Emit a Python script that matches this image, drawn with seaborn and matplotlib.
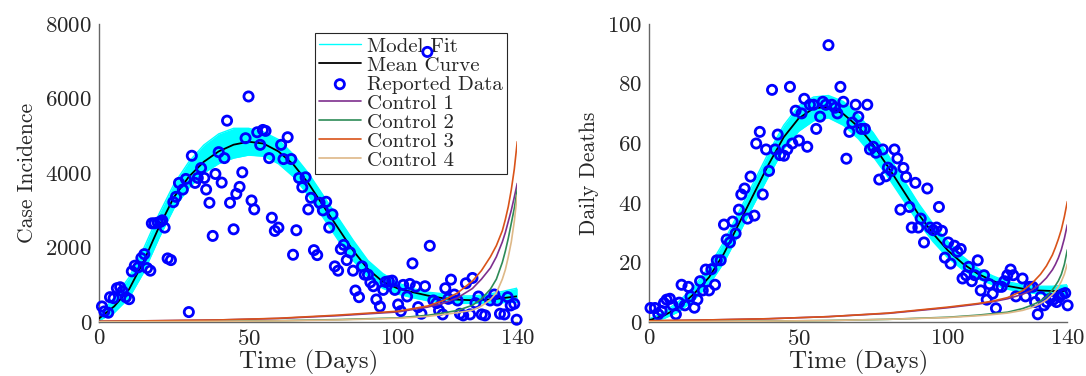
import numpy as np
import pandas as pd
import matplotlib
matplotlib.use("Agg")
import matplotlib.pyplot as plt
import seaborn as sns

# ---------------- data ----------------
grid_days = [0, 5, 10, 15, 20, 25, 30, 35, 40, 45, 50, 55, 60, 65, 70,
             75, 80, 85, 90, 95, 100, 105, 110, 115, 120, 125, 130, 135, 140]

cases_mean = [100, 420, 880, 1650, 2550, 3350, 3900, 4300, 4580, 4760, 4840, 4790,
              4580, 4230, 3730, 3120, 2520, 1920, 1420, 1080, 900, 800, 710, 640,
              600, 585, 600, 640, 690]
cases_upper = [200, 650, 1200, 2000, 2900, 3700, 4300, 4750, 5050, 5200, 5200, 5100,
               4900, 4500, 4000, 3400, 2800, 2200, 1650, 1300, 1050, 900, 800, 760,
               700, 700, 740, 820, 910]
cases_lower = [40, 250, 650, 1350, 2250, 3050, 3600, 4000, 4250, 4400, 4480, 4450,
               4250, 3900, 3400, 2800, 2200, 1650, 1200, 900, 750, 650, 570, 520,
               500, 500, 510, 520, 530]

deaths_mean = [0.6, 2.2, 5, 9.5, 15, 23, 33, 43, 53, 62, 68.3, 71.7, 72.2, 69.8, 65.5,
               59.4, 52, 44.2, 36.4, 29.7, 24, 19.6, 16.2, 13.8, 12.1, 11.2, 10.6, 10.4, 10.4]
deaths_upper = [1, 3.5, 7, 12, 18.5, 27, 37, 47, 57, 66, 72.5, 75.5, 76, 74, 69.5,
                63.5, 56, 48, 40, 33, 27, 22, 18, 15.5, 13.5, 12.5, 12, 12, 12.5]
deaths_lower = [0.2, 1.2, 3.5, 7.5, 12.5, 20, 29.5, 39.5, 49, 58, 64, 67.5, 68.5, 66, 61.5,
                55.5, 48.5, 41, 33.5, 27, 21.5, 17.5, 14.5, 12.5, 11, 10, 9.5, 9.2, 9]

cases_days = [0.9, 1.7, 3, 3.6, 4.8, 5.9, 7, 7.8, 8.9, 10, 10.9, 11.9, 13, 14.1, 15.1, 16,
              17.1, 17.6, 18.5, 19.6, 20.5, 21.1, 21.9, 22.9, 24, 24.8, 25.7, 26.7, 28, 29,
              30, 31, 32.1, 33, 34.1, 35.2, 35.8, 36.9, 38, 38.9, 40, 41, 41.9, 42.8, 43.8,
              45, 45.9, 47, 47.9, 49, 50, 51, 51.9, 52.9, 53.9, 54.8, 55.7, 56.9, 57.8, 58.8,
              60, 60.9, 61.7, 63.1, 64.3, 64.9, 66, 66.9, 68, 69.1, 70, 70.9, 71.9, 73, 73.8,
              74.9, 76, 77, 78.1, 78.9, 80, 80.9, 81.9, 82.9, 84, 85, 85.8, 87, 88, 88.9,
              90, 90.8, 91.8, 92.8, 94, 95.1, 95.9, 97, 98.1, 99, 100.1, 101, 101.8, 103.1,
              104, 104.9, 106, 106.8, 107.9, 109.1, 109.9, 110.7, 111.9, 113, 113.8, 115,
              115.9, 116.9, 117.8, 118.9, 120, 120.8, 121.9, 122.8, 124.2, 125, 126, 127,
              128.1, 129.2, 130.9, 132.3, 133.3, 134.2, 135.7, 136.8, 137.8, 139, 139.8]
cases_vals = [418, 284, 249, 667, 640, 907, 933, 827, 667, 613, 1360, 1511, 1467, 1716, 1822, 1449,
              1378, 2649, 2649, 2667, 2690, 2729, 2534, 1707, 1662, 3218, 3360, 3734, 3556, 3840,
              267, 4463, 3734, 3867, 4134, 3867, 3556, 3200, 2311, 3974, 4560, 3743, 4400, 5405, 3200,
              2489, 3440, 3627, 4018, 4934, 6054, 3263, 3023, 5094, 4756, 5156, 5130, 4400, 2800, 2445,
              2534, 4756, 4374, 4960, 4374, 1805, 2463, 3867, 3618, 3885, 3023, 3334, 1929, 1796, 3200,
              2996, 3227, 2534, 2889, 1494, 1378, 1956, 2071, 1662, 1867, 1378, 845, 667, 1494, 1271,
              1271, 1067, 960, 605, 418, 862, 1076, 1093, 1111, 862, 471, 293, 996, 685,
              1022, 1574, 951, 400, 222, 960, 7250, 2045, 578, 507, 311, 204,
              907, 622, 1138, 738, 578, 222, 178, 1040, 204, 1182, 507, 685,
              204, 178, 578, 738, 578, 222, 204, 667, 445, 489, 62]

deaths_days = [0.4, 1.9, 3, 4.1, 4.9, 5.8, 6.9, 7.8, 8.9, 10, 10.8, 11.9, 13.1, 13.8, 15.1, 16.1,
               17, 17.9, 18.9, 20, 20.8, 22, 22.6, 23.9, 25, 25.9, 27, 27.9, 28.9, 30, 30.8, 31.9,
               32.9, 33.9, 35.2, 35.8, 37, 38, 39.1, 40.1, 41.1, 42.1, 43, 43.8, 45.1, 46.2, 47.1,
               47.9, 49, 50.1, 51, 51.9, 52.9, 53.8, 55, 55.9, 57.2, 58.1, 59.1, 60, 61.1, 62.2,
               63, 64, 65, 66, 67, 68, 69.1, 70, 71, 72.2, 73, 73.9, 75, 75.9, 77, 78.2, 79.2,
               79.9, 81.1, 82.1, 83.1, 84.1, 85.1, 86, 87.1, 87.9, 89.1, 90.1, 90.9, 92, 93.1, 94,
               95.1, 96.2, 97, 98, 99, 100.1, 100.9, 102.2, 103.2, 104.3, 104.9, 106.1, 107, 108,
               109, 110, 111, 112.1, 113, 113.9, 115, 116.1, 116.9, 118, 118.9, 119.9, 121, 121.9,
               122.8, 125, 126, 127.3, 128.4, 129.2, 130.1, 131.1, 132.2, 133.1, 134.2, 135.3,
               136.4, 137.3, 138.3, 139.3, 140.1]
deaths_vals = [4.7, 4.7, 2.6, 3.7, 6.4, 7.5, 7.8, 5.6, 2.6, 6.5, 12.5, 5.6, 11.8, 8.6, 4.8, 7.5,
               13.7, 10.6, 17.6, 10.6, 17.7, 12.5, 20.7, 20.7, 32.7, 27.7, 26.7, 33.7, 29.7, 37.7, 42.8, 44.8,
               34.7, 48.8, 35.7, 59.9, 63.8, 42.8, 57.9, 50.7, 77.9, 57.9, 62.9, 56, 55.8, 57.9, 78.9,
               59.9, 70.9, 60.9, 70, 74.9, 58.8, 72.9, 72.9, 64.8, 68.9, 73.9, 72.9, 92.9, 72.9, 71.9,
               70, 78.9, 73.9, 54.8, 63.8, 66.9, 72.9, 68.9, 64.8, 64.8, 72.9, 57.9, 58.8, 56.8, 47.8, 57.9, 48.9,
               51.8, 50.7, 57.9, 54.9, 37.7, 51.7, 48.7, 38.6, 31.7, 46.7, 31.7, 34.7, 26.7, 44.8, 31.7,
               30.8, 31.7, 38.6, 30.6, 21.6, 26.7, 19.6, 25.6, 23.6, 24.5, 14.6, 15.7, 18.5, 13.7,
               15.7, 20.7, 10.6, 15.7, 7.5, 12.7, 9.5, 4.6, 11.8, 11.8, 13.7, 15.7, 17.6, 15.7,
               8.6, 14.6, 8.6, 11.8, 11.8, 6.7, 2.6, 8.4, 5.6, 6.7, 7.8, 7.5,
               6.7, 8.4, 9.3, 9.7, 5.6]

ctrl_days = [0, 20, 40, 60, 80, 100, 110, 115, 120, 125, 128, 131, 133, 135, 136, 137, 138, 139, 140]
cases_ctrl1 = [20, 35, 55, 95, 170, 270, 400, 500, 650, 900, 1150, 1450, 1750, 2150, 2400, 2700, 3000, 3350, 3720]
cases_ctrl2 = [5, 10, 20, 35, 65, 110, 180, 240, 310, 450, 620, 880, 1150, 1600, 1900, 2250, 2650, 3050, 3560]
cases_ctrl3 = [20, 35, 55, 100, 185, 290, 430, 570, 780, 1100, 1380, 1750, 2050, 2450, 2750, 3100, 3550, 4100, 4840]
cases_ctrl4 = [5, 10, 18, 30, 55, 100, 150, 200, 250, 320, 430, 600, 780, 1150, 1400, 1750, 2150, 2700, 3410]
deaths_ctrl1 = [0.4, 0.7, 1.1, 1.8, 2.9, 4.8, 6.0, 6.8, 7.8, 9.3, 10.6, 12.8, 14.8, 17.5, 19.3, 21.5, 24.3, 28, 32.6]
deaths_ctrl2 = [0.1, 0.2, 0.3, 0.5, 0.9, 1.6, 2.3, 2.8, 3.3, 4.5, 5.6, 7.0, 8.5, 10.8, 12.2, 13.8, 16, 19.3, 24.2]
deaths_ctrl3 = [0.4, 0.7, 1.1, 1.8, 3.0, 5.0, 6.2, 7.0, 8.2, 10.5, 12.8, 16, 18.8, 22.5, 25, 27.8, 31, 35.3, 40.4]
deaths_ctrl4 = [0.1, 0.2, 0.3, 0.5, 0.9, 1.5, 2.1, 2.5, 3.0, 3.9, 4.8, 6.2, 7.4, 9.2, 10.4, 11.8, 13.6, 16, 19.5]

ctrl_labels = ["Control 1", "Control 2", "Control 3", "Control 4"]
ctrl_colors = ["#7E2F8E", "#2E8B57", "#D95319", "#DEB887"]

# ---------------- style ----------------
sns.set_style("white")
plt.rcParams["font.family"] = ["cmr10", "DejaVu Serif"]
plt.rcParams["mathtext.fontset"] = "cm"
plt.rcParams["axes.formatter.use_mathtext"] = True
plt.rcParams["axes.unicode_minus"] = False

fig = plt.figure(figsize=(10.86, 3.76), dpi=100)
axL = fig.add_axes([0.0914, 0.1436, 0.3849, 0.7926])
axR = fig.add_axes([0.5979, 0.1436, 0.3849, 0.7926])


def draw(ax, mean, upper, lower, ddays, dvals, ctrls, ylabel, ymax, yticks, legend):
    ax.fill_between(grid_days, lower, upper, color="#00FFFF", lw=0, zorder=1)
    sns.lineplot(x=grid_days, y=upper, ax=ax, color="#00FFFF", lw=1.0, label="Model Fit", zorder=2)
    sns.lineplot(x=grid_days, y=lower, ax=ax, color="#00FFFF", lw=1.0, zorder=2)
    sns.lineplot(x=grid_days, y=mean, ax=ax, color="black", lw=1.3, label="Mean Curve", zorder=3)
    sns.scatterplot(x=ddays, y=dvals, ax=ax, marker="o", s=44, facecolors="none",
                    edgecolor="#0000FF", linewidth=2.0, label="Reported Data", zorder=4, clip_on=False)
    for vals, lab, col in zip(ctrls, ctrl_labels, ctrl_colors):
        sns.lineplot(x=ctrl_days, y=vals, ax=ax, color=col, lw=1.2, label=lab, zorder=5)
    ax.set_xlim(0, 140)
    ax.set_ylim(0, ymax)
    ax.set_xticks([0, 50, 100, 140])
    ax.set_yticks(yticks)
    ax.set_xlabel("Time (Days)", fontsize=18, color="#262626", labelpad=1)
    ax.set_ylabel(ylabel, fontsize=15.5, color="#262626", labelpad=6)
    ax.tick_params(direction="in", length=4, width=0.8, colors="#262626",
                   labelsize=16.5, pad=5)
    for s in ["top", "right"]:
        ax.spines[s].set_visible(False)
    for s in ["left", "bottom"]:
        ax.spines[s].set_color("#666666")
        ax.spines[s].set_linewidth(1.0)
    if legend:
        leg = ax.legend(loc="upper right", bbox_to_anchor=(0.975, 0.97), fontsize=15,
                        frameon=True, fancybox=False, framealpha=1, edgecolor="#262626",
                        labelspacing=0.02, handlelength=2.0, handletextpad=0.3,
                        borderpad=0.2, borderaxespad=0, markerscale=1.0)
        leg.get_frame().set_linewidth(0.8)
        leg.set_zorder(3.5)
    else:
        lg = ax.get_legend()
        if lg is not None:
            lg.remove()


draw(axL, cases_mean, cases_upper, cases_lower, cases_days, cases_vals,
     [cases_ctrl1, cases_ctrl2, cases_ctrl3, cases_ctrl4], "Case Incidence", 8000,
     [0, 2000, 4000, 6000, 8000], True)
draw(axR, deaths_mean, deaths_upper, deaths_lower, deaths_days, deaths_vals,
     [deaths_ctrl1, deaths_ctrl2, deaths_ctrl3, deaths_ctrl4], "Daily Deaths", 100,
     [0, 20, 40, 60, 80, 100], False)

fig.savefig("out.png", dpi=100)
